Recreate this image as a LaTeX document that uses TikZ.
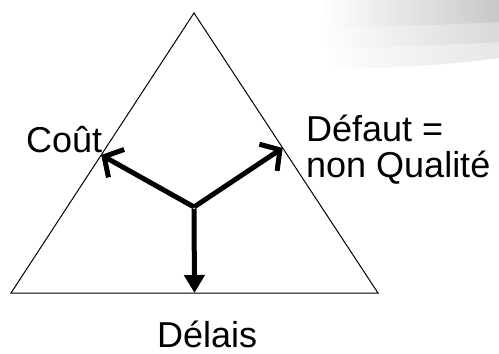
\documentclass[tikz,border=0pt]{standalone}
\usepackage{fontspec}
\setmainfont{Liberation Sans}
\usetikzlibrary{arrows.meta,calc}
\definecolor{cband}{HTML}{c8c8c8}

\begin{document}
\begin{tikzpicture}[x=1pt, y=-1pt,
  side/.style={line width=1pt},
  vec/.style={line width=5pt, -{Straight Barb[length=14pt, width=32pt, line width=5pt]}},
  down/.style={line width=5pt, -{Triangle[length=18pt, width=20pt]}},
  lab/.style={inner sep=0pt, font=\fontsize{36}{36}\selectfont, align=left}]
\useasboundingbox (0,0) rectangle (499,354);
% background bands, top right
\shade[left color=white, right color=cband!45] (320,0) -- (499,0) -- (499,58) .. controls (440,66) and (380,69) .. (330,68) -- cycle;
\shade[left color=white, right color=cband!70] (320,0) -- (499,0) -- (499,42) .. controls (440,45) and (380,48) .. (330,48) -- cycle;
\shade[left color=white, right color=cband] (320,0) -- (499,0) -- (499,22) .. controls (440,25) and (380,27) .. (330,28) -- cycle;
% triangle
\coordinate (top) at (194,13);
\coordinate (bl) at (11,293);
\coordinate (br) at (378,293);
\coordinate (o) at (194,207);
\draw[side] (top) -- (bl) -- (br) -- cycle;
\coordinate (tcout) at ($(top)!0.507!(bl)$);
\coordinate (tdef) at ($(top)!0.482!(br)$);
\coordinate (tdel) at ($(bl)!0.5!(br)$);
\draw[vec] (o) -- (tcout);
\draw[vec] (o) -- (tdef);
\draw[down] ([yshift=-2pt]o) -- (tdel);
% labels
\node[lab, anchor=base west] (cout) at (26,152) {Coût};
\node[lab, anchor=base west] (defaut) at (306,177) {Défaut =\\non Qualité};
\node[lab, anchor=base west] (delais) at (157,347) {Délais};
\end{tikzpicture}
\end{document}
